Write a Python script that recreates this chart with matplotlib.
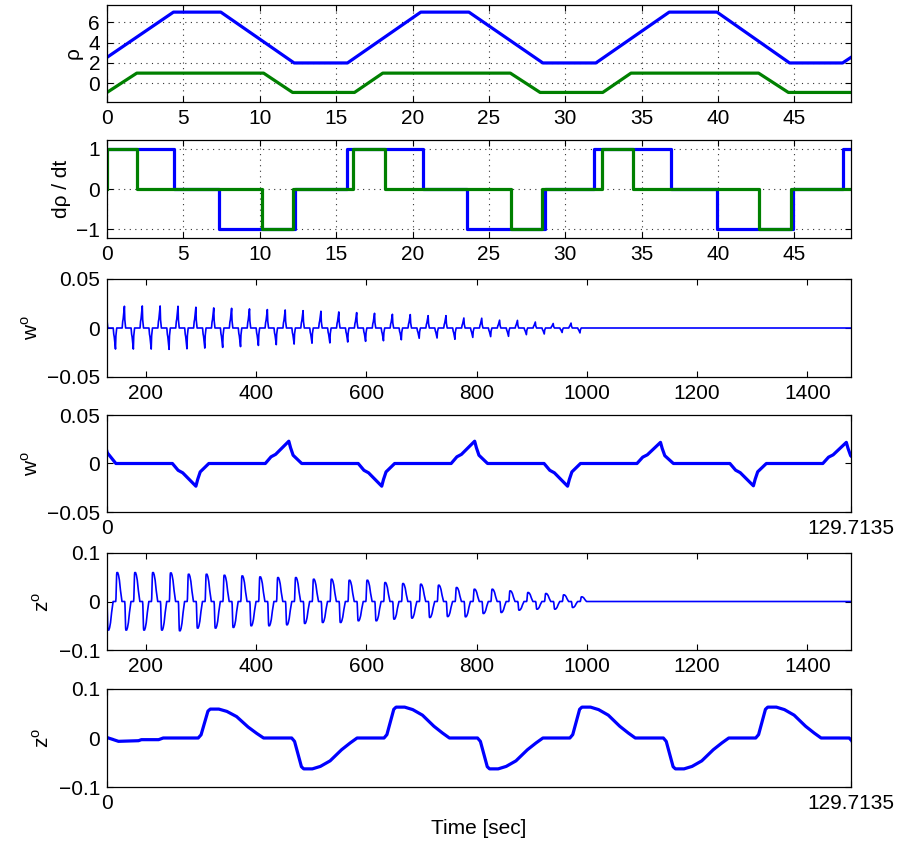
import numpy as np
import matplotlib
matplotlib.use('Agg')
import matplotlib.pyplot as plt

plt.rcParams['font.family'] = ['Liberation Sans', 'DejaVu Sans']
plt.rcParams['mathtext.fontset'] = 'custom'
plt.rcParams['mathtext.rm'] = 'Liberation Sans'
plt.rcParams['axes.unicode_minus'] = True

BLUE = (0, 0, 1)
GREEN = (0, 0.5, 0)

# ---------------- panel 1 : rho ----------------
rho1_t = [0, 4.35, 7.45, 12.25, 15.74, 20.54, 23.69, 28.53, 32.0, 36.8, 39.93, 44.68, 48.15, 48.7]
rho1_v = [2.55, 7, 7, 2, 2, 7, 7, 2, 2, 7, 7, 2, 2, 2.55]
rho2_t = [0, 1.95, 10.25, 12.15, 16.2, 18.05, 26.4, 28.35, 32.45, 34.3, 42.65, 44.6, 48.7]
rho2_v = [-0.9, 1, 1, -0.9, -0.9, 1, 1, -0.9, -0.9, 1, 1, -0.9, -0.9]

# ---------------- panel 2 : d rho / dt ----------------
drho1_t = [0, 4.41, 7.33, 12.31, 15.7, 20.67, 23.55, 28.64, 31.91, 36.91, 39.93, 44.88, 48.18, 48.7]
drho1_v = [1, 0, -1, 0, 1, 0, -1, 0, 1, 0, -1, 0, 1, 1]
drho2_t = [0, 0, 1.99, 10.17, 12.2, 16.13, 18.2, 26.43, 28.46, 32.4, 34.43, 42.65, 44.77, 48.7]
drho2_v = [0, 1, 0, -1, 0, 1, 0, -1, 0, 1, 0, -1, 0, 0]

# ---------------- w : spike events ----------------
w_valley_t = [15.5, 47.9, 80.3, 112.7, 145.1, 177.5, 209.9, 242.3, 274.7, 307.1, 339.5,
              371.9, 404.3, 436.7, 469.1, 501.5, 533.9, 566.3, 598.7, 631.1, 663.5, 695.9,
              728.3, 760.7, 793.1, 825.5, 857.9, 890.3, 922.7, 955.1, 987.5]
w_valley_amp = [0.0234, 0.0234, 0.0234, 0.0230, 0.0215, 0.0215, 0.0215, 0.0218, 0.0212,
                0.0205, 0.0198, 0.0190, 0.0178, 0.0170, 0.0164, 0.0155, 0.0152, 0.0143,
                0.0136, 0.0130, 0.0120, 0.0105, 0.0102, 0.0115, 0.0096, 0.0088, 0.0085,
                0.0068, 0.0061, 0.0046, 0.0050]
w_peak_t = [-0.7, 31.7, 64.1, 96.5, 128.9, 161.3, 193.7, 226.1, 258.5, 290.9, 323.3, 355.7,
            388.1, 420.5, 452.9, 485.3, 517.7, 550.1, 582.5, 614.9, 647.3, 679.7, 712.1,
            744.5, 776.9, 809.3, 841.7, 874.1, 906.5, 938.9, 971.3]
w_peak_amp = [0.030, 0.023, 0.023, 0.0218, 0.0218, 0.0222, 0.0225, 0.0225, 0.0222, 0.0212,
              0.0205, 0.0201, 0.0195, 0.0188, 0.0184, 0.0177, 0.0171, 0.0164, 0.0157,
              0.0150, 0.0140, 0.0137, 0.0126, 0.0126, 0.0102, 0.0100, 0.0080, 0.0078,
              0.0061, 0.0046, 0.0050]
w_shape_rel_t = [-4.1, -3.1, -2.3, 0.0, 0.3, 0.75, 2.25]
w_shape_v = [0, 0.30, 0.41, 1.0, 0.71, 0.37, 0]

# ---------------- z : hump events ----------------
z_init_t = [0, 2.0, 5.5, 6.0, 9.0, 9.8]
z_init_v = [0.001, -0.0068, -0.0055, -0.0034, -0.0034, 0]
z_rise_t = [15.9, 48.3, 80.7, 113.1, 145.5, 177.9, 210.3, 242.7, 275.1, 307.5, 339.9,
            372.3, 404.7, 437.1, 469.5, 501.9, 534.3, 566.7, 599.1, 631.5, 663.9, 696.3,
            728.7, 761.1, 793.5, 825.9, 858.3, 890.7, 923.1, 955.5, 987.9]
z_rise_amp = [0.059, 0.063, 0.063, 0.063, 0.0596, 0.0596, 0.0596, 0.0589, 0.0562, 0.0562,
              0.0541, 0.0527, 0.0507, 0.0493, 0.0493, 0.0459, 0.0459, 0.0438, 0.0438,
              0.0390, 0.0370, 0.0356, 0.0336, 0.0288, 0.0253, 0.0253, 0.0219, 0.0185,
              0.0164, 0.0137, 0.0096]
z_fall_t = [32.2, 64.6, 97.0, 129.4, 161.8, 194.2, 226.6, 259.0, 291.4, 323.8, 356.2,
            388.6, 421.0, 453.4, 485.8, 518.2, 550.6, 583.0, 615.4, 647.8, 680.2, 712.6,
            745.0, 777.4, 809.8, 842.2, 874.6, 907.0, 939.4, 971.8]
z_fall_amp = [0.063, 0.063, 0.063, 0.0589, 0.0589, 0.0589, 0.0589, 0.0603, 0.0548, 0.0548,
              0.0534, 0.0500, 0.0500, 0.0480, 0.0452, 0.0432, 0.0432, 0.0397, 0.0397,
              0.0363, 0.0342, 0.0329, 0.0310, 0.0315, 0.0247, 0.0226, 0.0178, 0.0158,
              0.0158, 0.0123]
z_shape_rel_t = [0, 0.5, 1.7, 2.1, 3.6, 5.0, 6.7, 8.7, 10.2, 11.4]
z_shape_v = [0, 0.11, 0.93, 1.0, 1.0, 0.92, 0.74, 0.38, 0.16, 0]

t_zoom_end = 129.7135
t_end = 1479.0


def assemble(event_groups, init_t=None, init_v=None):
    ts, vs = [], []
    if init_t is not None:
        ts += list(init_t)
        vs += list(init_v)
    for times, amps, rel, shape, sign in event_groups:
        for t0, a in zip(times, amps):
            ts += [t0 + r for r in rel]
            vs += [sign * a * s for s in shape]
    ts.append(t_end)
    vs.append(0.0)
    order = np.argsort(ts, kind='stable')
    return np.asarray(ts)[order], np.asarray(vs)[order]


w_t, w_v = assemble([(w_valley_t, w_valley_amp, w_shape_rel_t, w_shape_v, -1),
                     (w_peak_t, w_peak_amp, w_shape_rel_t, w_shape_v, 1)])
z_t, z_v = assemble([(z_rise_t, z_rise_amp, z_shape_rel_t, z_shape_v, 1),
                     (z_fall_t, z_fall_amp, z_shape_rel_t, z_shape_v, -1)],
                    z_init_t, z_init_v)

# ---------------- figure ----------------
W, H = 901, 846
fig = plt.figure(figsize=(W / 100, H / 100), dpi=100)
L, R = 107 / W, 851 / W
tops = [5, 140, 279, 415, 553, 689]
bots = [102, 238, 377, 512, 650, 787]
axes = [fig.add_axes([L, 1 - b / H, R - L, (b - t) / H]) for t, b in zip(tops, bots)]

FS = 15
for ax in axes:
    ax.tick_params(direction='in', length=4, width=0.8, top=True, right=True,
                   labelsize=FS, pad=5)
    for s in ax.spines.values():
        s.set_linewidth(0.9)

grid_kw = dict(color='0.2', linestyle=(0, (1, 4)), linewidth=0.8)

ax = axes[0]
ax.plot(rho1_t, rho1_v, color=BLUE, lw=2.3)
ax.plot(rho2_t, rho2_v, color=GREEN, lw=2.3)
ax.set_xlim(0, 48.7)
ax.set_ylim(-1.84, 7.7)
ax.set_xticks(np.arange(0, 46, 5))
ax.set_yticks([0, 2, 4, 6])
ax.grid(True, **grid_kw)
ax.set_ylabel('ρ', fontsize=FS)

ax = axes[1]
ax.plot(drho1_t, drho1_v, color=BLUE, lw=2.3, drawstyle='steps-post')
ax.plot(drho2_t, drho2_v, color=GREEN, lw=2.3, drawstyle='steps-post')
ax.set_xlim(0, 48.7)
ax.set_ylim(-1.22, 1.22)
ax.set_xticks(np.arange(0, 46, 5))
ax.set_yticks([-1, 0, 1])
ax.grid(True, **grid_kw)
ax.set_ylabel('dρ / dt', fontsize=FS)

w_label = 'w$^{\\mathrm{o}}$'
z_label = 'z$^{\\mathrm{o}}$'

ax = axes[2]
ax.plot(w_t, w_v, color=BLUE, lw=1.2)
ax.set_xlim(t_zoom_end, t_end)
ax.set_ylim(-0.05, 0.05)
ax.set_xticks([200, 400, 600, 800, 1000, 1200, 1400])
ax.set_yticks([-0.05, 0, 0.05])
ax.set_yticklabels(['\u22120.05', '0', '0.05'])
ax.set_ylabel(w_label, fontsize=FS)

ax = axes[3]
ax.plot(w_t, w_v, color=BLUE, lw=2.3)
ax.set_xlim(0, t_zoom_end)
ax.set_ylim(-0.05, 0.05)
ax.set_xticks([0, t_zoom_end])
ax.set_xticklabels(['0', '129.7135'])
ax.set_yticks([-0.05, 0, 0.05])
ax.set_yticklabels(['\u22120.05', '0', '0.05'])
ax.set_ylabel(w_label, fontsize=FS)

ax = axes[4]
ax.plot(z_t, z_v, color=BLUE, lw=1.2)
ax.set_xlim(t_zoom_end, t_end)
ax.set_ylim(-0.1, 0.1)
ax.set_xticks([200, 400, 600, 800, 1000, 1200, 1400])
ax.set_yticks([-0.1, 0, 0.1])
ax.set_yticklabels(['\u22120.1', '0', '0.1'])
ax.set_ylabel(z_label, fontsize=FS)

ax = axes[5]
ax.plot(z_t, z_v, color=BLUE, lw=2.3)
ax.set_xlim(0, t_zoom_end)
ax.set_ylim(-0.1, 0.1)
ax.set_xticks([0, t_zoom_end])
ax.set_xticklabels(['0', '129.7135'])
ax.set_yticks([-0.1, 0, 0.1])
ax.set_yticklabels(['\u22120.1', '0', '0.1'])
ax.set_ylabel(z_label, fontsize=FS)
ax.set_xlabel('Time [sec]', fontsize=FS)

fig.savefig('out.png', dpi=100)
